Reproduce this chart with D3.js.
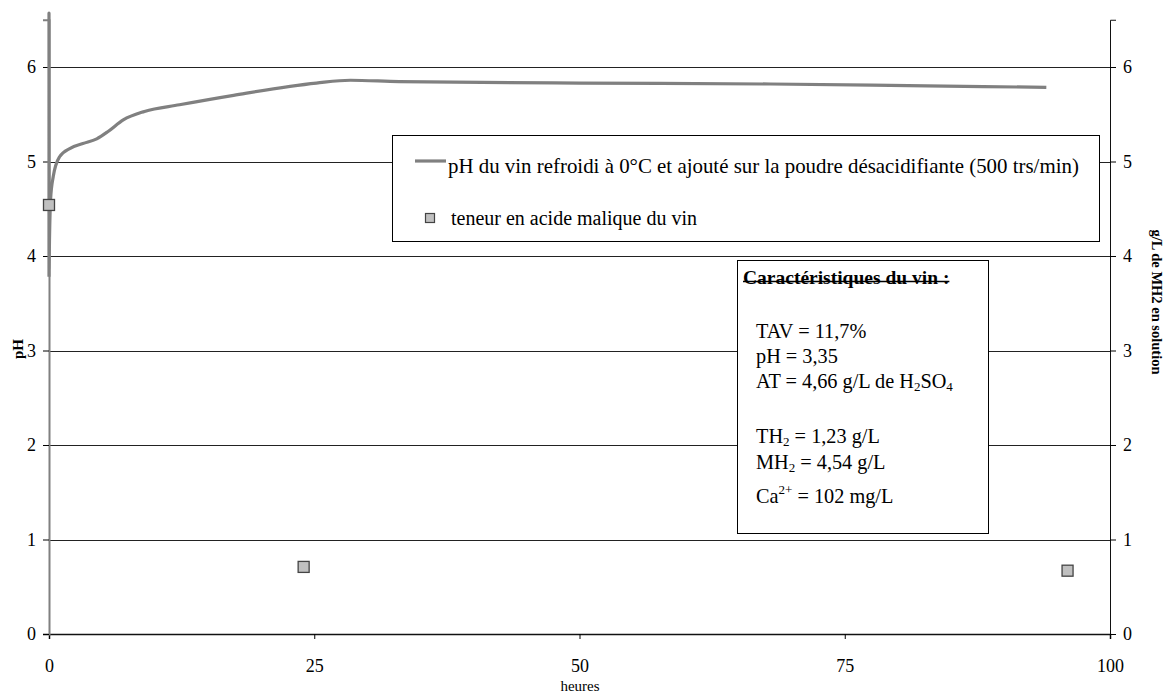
<!DOCTYPE html>
<html>
<head>
<meta charset="utf-8">
<script src="https://cdn.jsdelivr.net/npm/d3@7"></script>
<style>
html,body{margin:0;padding:0;background:#fff;}
svg{display:block;}
svg text{font-family:"Liberation Serif","Times New Roman",serif;}
</style>
</head>
<body>
<svg id="chart" width="1165" height="696"></svg>
<script>
// ---- data ----
const phHours = [0, 0, 0, 0.05, 0.15, 0.4, 1, 2, 3.2, 4.5, 5.6, 7, 9, 12.3, 17.4, 25.2, 28.4, 33, 50, 68, 82.7, 94];
const phValues = [3.78, 6.57, 3.85, 4.2, 4.6, 4.84, 5.05, 5.14, 5.19, 5.24, 5.32, 5.44, 5.53, 5.60, 5.70, 5.83, 5.86, 5.845, 5.83, 5.82, 5.80, 5.785];
const malicHours = [0, 24, 96];
const malicValues = [4.54, 0.71, 0.67];
const xTicks = [0, 25, 50, 75, 100];
const yTicks = [0, 1, 2, 3, 4, 5, 6];
const legendLabels = ["pH du vin refroidi à 0°C et ajouté sur la poudre désacidifiante (500 trs/min)", "teneur en acide malique du vin"];

(function () {
const svg = d3.select("#chart");
const mLeft = 49, mRight = 1110, mTop = 19.75, mBottom = 634;
const x = d3.scaleLinear().domain([0, 100]).range([mLeft, mRight]);
const yL = d3.scaleLinear().domain([0, 6.5]).range([mBottom, mTop]);
const yR = d3.scaleLinear().domain([0, 6.5]).range([mBottom, mTop]);

// gridlines
svg.append("g").selectAll("line").data(yTicks.filter(d => d > 0)).join("line")
  .attr("x1", mLeft).attr("x2", mRight)
  .attr("y1", d => Math.round(yL(d)) + 0.5).attr("y2", d => Math.round(yL(d)) + 0.5)
  .attr("stroke", "#222").attr("stroke-width", 1);

// axes
const fs = "18px";
const gx = svg.append("g").attr("transform", `translate(0,${mBottom})`)
  .call(d3.axisBottom(x).tickValues(xTicks).tickSize(5).tickPadding(20).tickFormat(d3.format("d")));
const gl = svg.append("g").attr("transform", `translate(${mLeft},0)`)
  .call(d3.axisLeft(yL).tickValues(yTicks).tickSize(6).tickPadding(7).tickFormat(d3.format("d")));
const gr = svg.append("g").attr("transform", `translate(${mRight},0)`)
  .call(d3.axisRight(yR).tickValues(yTicks).tickSize(6).tickPadding(7).tickFormat(d3.format("d")));
[gx, gl, gr].forEach(g => {
  g.attr("font-family", "Liberation Serif").attr("font-size", fs);
  g.selectAll("text").style("font-family", "'Liberation Serif', serif").style("font-size", fs).attr("fill", "#000");
  g.selectAll(".tick line").attr("stroke", "#000");
});
gx.select(".domain").attr("stroke", "#111").attr("stroke-width", 1.5);
gl.select(".domain").attr("stroke", "#808080").attr("stroke-width", 2);
gr.select(".domain").attr("stroke", "#111").attr("stroke-width", 1);

// pH line
const phData = phHours.map((h, i) => [h, phValues[i]]);
svg.append("path").datum(phData)
  .attr("d", d3.line().x(d => x(d[0])).y(d => yL(d[1])).curve(d3.curveMonotoneX))
  .attr("fill", "none").attr("stroke", "#808080").attr("stroke-width", 3.2)
  .attr("stroke-linejoin", "round");

// malic squares
const sq = 11;
svg.append("g").selectAll("rect").data(malicHours.map((h, i) => [h, malicValues[i]])).join("rect")
  .attr("x", d => x(d[0]) - sq / 2).attr("y", d => yR(d[1]) - sq / 2)
  .attr("width", sq).attr("height", sq)
  .attr("fill", "#c0c0c0").attr("stroke", "#444").attr("stroke-width", 1.3);

// axis titles
svg.append("text").attr("transform", "translate(23,349) rotate(-90)")
  .attr("text-anchor", "middle").attr("font-weight", "bold").attr("font-size", "15px").text("pH");
svg.append("text").attr("transform", "translate(1152,302) rotate(90)")
  .attr("text-anchor", "middle").attr("font-weight", "bold").attr("font-size", "14.5px").text("g/L de MH2 en solution");
svg.append("text").attr("x", 580).attr("y", 691)
  .attr("text-anchor", "middle").attr("font-size", "15px").text("heures");

// legend
const lg = svg.append("g");
lg.append("rect").attr("x", 392.5).attr("y", 135.5).attr("width", 707).attr("height", 106)
  .attr("fill", "#fff").attr("stroke", "#000").attr("stroke-width", 1);
lg.append("line").attr("x1", 415).attr("x2", 446).attr("y1", 161).attr("y2", 161)
  .attr("stroke", "#808080").attr("stroke-width", 3.2);
lg.append("text").attr("x", 448).attr("y", 173).attr("font-size", "20.9px").text(legendLabels[0]);
lg.append("rect").attr("x", 425.5).attr("y", 213.5).attr("width", 9).attr("height", 9)
  .attr("fill", "#c0c0c0").attr("stroke", "#444").attr("stroke-width", 1.2);
lg.append("text").attr("x", 451).attr("y", 225).attr("font-size", "20px").text(legendLabels[1]);

// characteristics box
const cb = svg.append("g");
cb.append("rect").attr("x", 737.5).attr("y", 260.5).attr("width", 251).attr("height", 273)
  .attr("fill", "#fff").attr("stroke", "#000").attr("stroke-width", 1);
const title = cb.append("text").attr("x", 743).attr("y", 284).attr("font-size", "19.5px").attr("font-weight", "bold")
  .text("Caractéristiques du vin :");
const tw = title.node().getComputedTextLength();
cb.append("line").attr("x1", 743).attr("x2", 743 + tw).attr("y1", 281.5).attr("y2", 281.5)
  .attr("stroke", "#000").attr("stroke-width", 1.4);

function addLine(y, parts) {
  const t = cb.append("text").attr("x", 756).attr("y", y).attr("font-size", "20.3px");
  parts.forEach(p => {
    const s = t.append("tspan").text(p.t);
    if (p.sub) s.attr("font-size", "13px").attr("dy", 3);
    if (p.sup) s.attr("font-size", "13px").attr("dy", -9);
    if (p.back) s.attr("dy", p.back);
  });
}
addLine(338, [{t: "TAV = 11,7%"}]);
addLine(363, [{t: "pH = 3,35"}]);
addLine(388, [{t: "AT = 4,66 g/L de H"}, {t: "2", sub: true}, {t: "SO", back: -3}, {t: "4", sub: true}]);
addLine(443, [{t: "TH"}, {t: "2", sub: true}, {t: " = 1,23 g/L", back: -3}]);
addLine(469, [{t: "MH"}, {t: "2", sub: true}, {t: " = 4,54 g/L", back: -3}]);
addLine(503, [{t: "Ca"}, {t: "2+", sup: true}, {t: " = 102 mg/L", back: 9}]);
})();
</script>
</body>
</html>
